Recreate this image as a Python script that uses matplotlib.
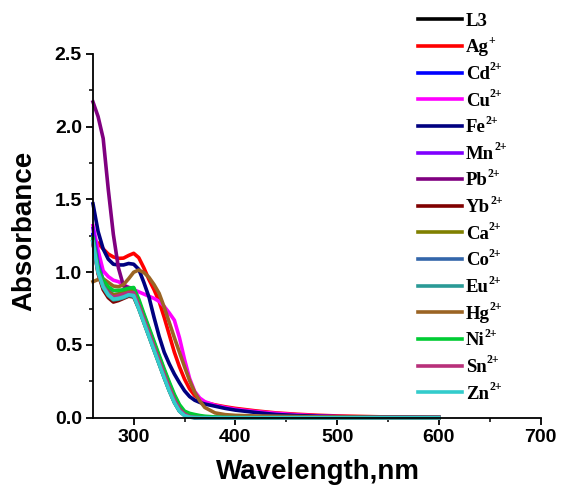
import matplotlib
matplotlib.use("Agg")
import matplotlib.pyplot as plt
from matplotlib.lines import Line2D

wl = [260, 265, 270, 275, 280, 285, 290, 295, 300, 305, 310, 315, 320, 325, 330,
      335, 340, 345, 350, 355, 360, 365, 370, 380, 390, 400, 420, 440, 460, 480,
      500, 550, 600]

L3 = [1.25, 1.04, 0.93, 0.865, 0.835, 0.84, 0.85, 0.865, 0.86, 0.775, 0.68, 0.585, 0.49, 0.395, 0.30,
      0.21, 0.125, 0.06, 0.025, 0.008, 0.002, 0.001, 0, 0, 0, 0, 0, 0, 0, 0, 0, 0, 0]
Ag = [1.22, 1.20, 1.16, 1.125, 1.105, 1.095, 1.097, 1.115, 1.13, 1.10, 1.03, 0.95, 0.88, 0.80, 0.69,
      0.57, 0.45, 0.35, 0.265, 0.198, 0.152, 0.124, 0.105, 0.088, 0.075, 0.064, 0.047, 0.033, 0.024, 0.017,
      0.012, 0.005, 0.002]
Cd = [1.26, 1.05, 0.935, 0.87, 0.84, 0.845, 0.855, 0.87, 0.865, 0.78, 0.685, 0.59, 0.495, 0.40, 0.305,
      0.215, 0.13, 0.062, 0.026, 0.009, 0.002, 0.001, 0, 0, 0, 0, 0, 0, 0, 0, 0, 0, 0]
Cu = [1.32, 1.15, 1.01, 0.97, 0.945, 0.935, 0.915, 0.895, 0.88, 0.865, 0.85, 0.835, 0.82, 0.80, 0.765,
      0.72, 0.67, 0.55, 0.40, 0.27, 0.18, 0.135, 0.11, 0.085, 0.07, 0.058, 0.042, 0.03, 0.02, 0.013,
      0.008, 0.003, 0.001]
Fe = [1.47, 1.28, 1.16, 1.09, 1.055, 1.05, 1.05, 1.06, 1.055, 1.02, 0.93, 0.83, 0.69, 0.56, 0.45,
      0.37, 0.30, 0.24, 0.185, 0.145, 0.12, 0.105, 0.094, 0.079, 0.064, 0.052, 0.036, 0.022, 0.015, 0.01,
      0.007, 0.003, 0.001]
Mn = [1.30, 1.07, 0.945, 0.875, 0.845, 0.85, 0.86, 0.87, 0.865, 0.78, 0.685, 0.59, 0.495, 0.40, 0.305,
      0.215, 0.13, 0.062, 0.026, 0.009, 0.002, 0.001, 0, 0, 0, 0, 0, 0, 0, 0, 0, 0, 0]
Pb = [2.17, 2.07, 1.92, 1.57, 1.26, 1.03, 0.905, 0.895, 0.89, 0.80, 0.705, 0.61, 0.515, 0.42, 0.325,
      0.235, 0.15, 0.08, 0.035, 0.016, 0.008, 0.004, 0.002, 0.001, 0, 0, 0, 0, 0, 0, 0, 0, 0]
Yb = [1.20, 0.99, 0.88, 0.825, 0.795, 0.805, 0.82, 0.835, 0.83, 0.75, 0.655, 0.56, 0.465, 0.37, 0.275,
      0.185, 0.105, 0.045, 0.016, 0.004, 0.001, 0, 0, 0, 0, 0, 0, 0, 0, 0, 0, 0, 0]
Ca = [1.22, 1.02, 0.92, 0.865, 0.845, 0.85, 0.86, 0.87, 0.87, 0.79, 0.695, 0.60, 0.505, 0.41, 0.315,
      0.225, 0.14, 0.068, 0.028, 0.01, 0.003, 0.001, 0, 0, 0, 0, 0, 0, 0, 0, 0, 0, 0]
Co = [1.24, 1.03, 0.915, 0.855, 0.825, 0.83, 0.84, 0.855, 0.85, 0.765, 0.67, 0.575, 0.48, 0.385, 0.29,
      0.2, 0.118, 0.052, 0.02, 0.006, 0.001, 0, 0, 0, 0, 0, 0, 0, 0, 0, 0, 0, 0]
Eu = [1.20, 1.0, 0.895, 0.84, 0.81, 0.815, 0.825, 0.84, 0.835, 0.75, 0.655, 0.56, 0.465, 0.37, 0.275,
      0.185, 0.105, 0.045, 0.015, 0.004, 0.001, 0, 0, 0, 0, 0, 0, 0, 0, 0, 0, 0, 0]
Hg = [0.935, 0.95, 0.955, 0.93, 0.905, 0.90, 0.915, 0.955, 1.0, 1.015, 0.998, 0.965, 0.915, 0.855, 0.76,
      0.655, 0.55, 0.45, 0.35, 0.255, 0.175, 0.115, 0.07, 0.033, 0.021, 0.016, 0.012, 0.01, 0.008, 0.006,
      0.005, 0.002, 0.001]
Ni = [1.23, 1.03, 0.945, 0.90, 0.875, 0.875, 0.88, 0.89, 0.895, 0.815, 0.715, 0.62, 0.525, 0.43, 0.335,
      0.245, 0.16, 0.09, 0.045, 0.03, 0.022, 0.015, 0.01, 0.005, 0.002, 0.001, 0, 0, 0, 0, 0, 0, 0]
Sn = [1.20, 1.0, 0.905, 0.855, 0.83, 0.84, 0.85, 0.86, 0.86, 0.775, 0.68, 0.585, 0.49, 0.395, 0.30,
      0.21, 0.125, 0.06, 0.025, 0.008, 0.002, 0.001, 0, 0, 0, 0, 0, 0, 0, 0, 0, 0, 0]
Zn = [1.21, 1.0, 0.90, 0.845, 0.815, 0.82, 0.83, 0.845, 0.84, 0.75, 0.655, 0.56, 0.465, 0.37, 0.275,
      0.185, 0.105, 0.045, 0.015, 0.004, 0.001, 0, 0, 0, 0, 0, 0, 0, 0, 0, 0, 0, 0]

series = [L3, Ag, Cd, Cu, Fe, Mn, Pb, Yb, Ca, Co, Eu, Hg, Ni, Sn, Zn]
names = ['L3', 'Ag', 'Cd', 'Cu', 'Fe', 'Mn', 'Pb', 'Yb', 'Ca', 'Co', 'Eu', 'Hg', 'Ni', 'Sn', 'Zn']
charges = ['', '+', '2+', '2+', '2+', '2+', '2+', '2+', '2+', '2+', '2+', '2+', '2+', '2+', '2+']
colors = ['#000000', '#ff0000', '#0000ff', '#ff00ff', '#000080', '#8000ff', '#800080',
          '#800000', '#808000', '#3366aa', '#2a9a96', '#9b6424', '#00cc33', '#b8307a', '#33cccc']

fig = plt.figure(figsize=(5.63, 4.87), dpi=100)
W, H = 563.0, 487.0
ax = fig.add_axes([93 / W, 1 - 417.7 / H, 447.5 / W, 363.7 / H])

for y, c in zip(series, colors):
    ax.plot(wl, y, color=c, lw=2.6, clip_on=False, solid_joinstyle='round')

ax.set_xlim(260, 700)
ax.set_ylim(0, 2.5)
ax.set_xticks([300, 400, 500, 600, 700])
ax.set_xticks([350, 450, 550, 650], minor=True)
ax.set_yticks([0, 0.5, 1.0, 1.5, 2.0, 2.5])
ax.set_yticks([0.25, 0.75, 1.25, 1.75, 2.25], minor=True)
ax.set_yticklabels(['0.0', '0.5', '1.0', '1.5', '2.0', '2.5'])
for s in ['top', 'right']:
    ax.spines[s].set_visible(False)
for s in ['left', 'bottom']:
    ax.spines[s].set_linewidth(1.3)
ax.tick_params(which='major', direction='out', length=5, width=1.3, pad=3)
ax.tick_params(which='minor', direction='out', length=3, width=1.1)
for lab in ax.get_xticklabels() + ax.get_yticklabels():
    lab.set_fontfamily('Liberation Sans')
    lab.set_fontweight('bold')
    lab.set_fontsize(14)

ax.set_xlabel('Wavelength,nm', fontfamily='Liberation Sans', fontweight='bold', fontsize=20)
ax.set_ylabel('Absorbance', fontfamily='Liberation Sans', fontweight='bold', fontsize=20)
ax.xaxis.set_label_coords(0.503, -0.114)
ax.yaxis.set_label_coords(-0.125, 0.514)

# legend drawn by hand: evenly spaced rows, small raised charges
renderer = fig.canvas.get_renderer()
for i, (nm, ch, c) in enumerate(zip(names, charges, colors)):
    yc = 19.3 + 26.64 * i
    fig.add_artist(Line2D([418 / W, 462 / W], [1 - yc / H, 1 - yc / H], color=c, lw=2.6))
    base = 1 - (yc + 6.3) / H
    t = fig.text(466 / W, base, nm, fontfamily='Liberation Serif', fontweight='bold',
                 fontsize=13.5, va='baseline', ha='left')
    if ch:
        bb = t.get_window_extent(renderer)
        fig.text(bb.x1 / W, base + 8.5 / H, ch, fontfamily='Liberation Serif', fontweight='bold',
                 fontsize=8.5, va='baseline', ha='left')

fig.savefig('out.png', dpi=100)
